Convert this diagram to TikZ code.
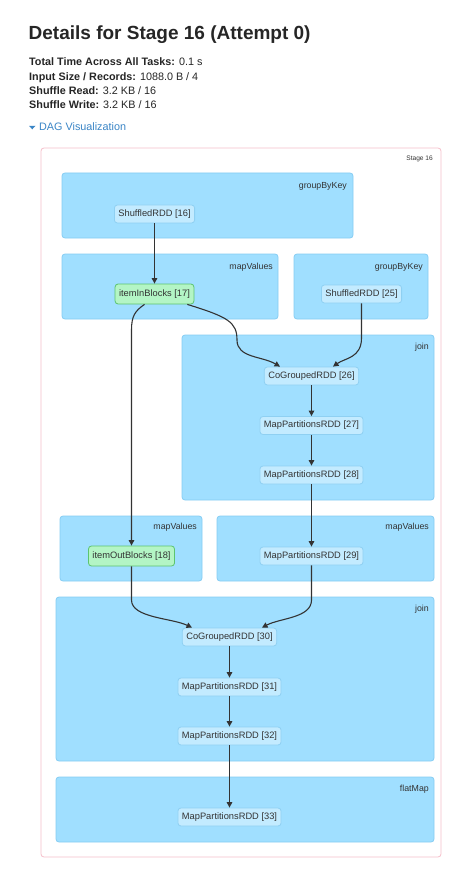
\documentclass[tikz,border=0pt]{standalone}
\usepackage{fontspec}
\setmainfont{Liberation Sans}
\usetikzlibrary{arrows.meta,positioning}

\definecolor{clusterfill}{HTML}{A0DFFF}
\definecolor{clusterline}{HTML}{86CDF3}
\definecolor{rddfill}{HTML}{C3EBFF}
\definecolor{rddline}{HTML}{8FD0F2}
\definecolor{cachedfill}{HTML}{B3F5C5}
\definecolor{cachedline}{HTML}{5CC46F}
\definecolor{stageline}{HTML}{F6BFCB}
\definecolor{linkblue}{HTML}{3A85C6}
\definecolor{edgecol}{HTML}{333333}
\definecolor{textcol}{HTML}{333333}

\begin{document}
\begin{tikzpicture}[x=1pt,y=-1pt,
  cluster/.style={fill=clusterfill,draw=clusterline,line width=0.8pt,rounded corners=3pt},
  clabel/.style={anchor=east,inner sep=0pt,font=\fontsize{8.8}{10}\selectfont,text=textcol},
  rdd/.style={draw=rddline,fill=rddfill,rounded corners=3pt,line width=0.8pt,
    font=\fontsize{9.3}{11}\selectfont,text=textcol,minimum height=18pt,inner xsep=4pt,inner ysep=0pt},
  cached/.style={rdd,draw=cachedline,fill=cachedfill,minimum height=20pt},
  dep/.style={-{Triangle[width=5.5pt,length=5.5pt]},draw=edgecol,line width=1.1pt},
  stat/.style={anchor=base west,inner sep=0pt,font=\fontsize{10.8}{13}\selectfont,text=black!85}]
  \useasboundingbox[fill=white] (0,0) rectangle (474,877);

  % header
  \node[anchor=base west,inner sep=0pt,font=\fontsize{19}{22}\bfseries,text=black!85] (title) at (28.5,39.5) {Details for Stage 16 (Attempt 0)};
  \node[stat] (total) at (29,65.7) {\textbf{Total Time Across All Tasks:} 0.1 s};
  \node[stat] (input) at (29,80.2) {\textbf{Input Size / Records:} 1088.0 B / 4};
  \node[stat] (sread) at (29,94.6) {\textbf{Shuffle Read:} 3.2 KB / 16};
  \node[stat] (swrite) at (29,109) {\textbf{Shuffle Write:} 3.2 KB / 16};
  \fill[linkblue] (29,125.8) -- (35.5,125.8) -- (32.25,129.3) -- cycle;
  \node[stat,text=linkblue] (dag) at (39,131) {DAG Visualization};

  % stage
  \draw[stageline,line width=0.8pt,rounded corners=3pt] (41,148) rectangle (441,857);
  \node[clabel,font=\fontsize{6.6}{8}\selectfont] (stage) at (433,159) {Stage 16};

  % clusters
  \path[cluster] (62,173) rectangle (353,238);
  \node[clabel] (gbk1) at (347,186) {groupByKey};
  \path[cluster] (62,254) rectangle (278,319);
  \node[clabel] (mv1) at (273,267) {mapValues};
  \path[cluster] (294,254) rectangle (428,319);
  \node[clabel] (gbk2) at (423,267) {groupByKey};
  \path[cluster] (182,335) rectangle (434,500);
  \node[clabel] (join1) at (429,347) {join};
  \path[cluster] (60,516) rectangle (202,581);
  \node[clabel] (mv2) at (197,527) {mapValues};
  \path[cluster] (217,516) rectangle (434,581);
  \node[clabel] (mv3) at (429,527) {mapValues};
  \path[cluster] (56,597) rectangle (434,761);
  \node[clabel] (join2) at (429,609) {join};
  \path[cluster] (56,777) rectangle (434,842);
  \node[clabel] (fmap) at (429,789) {flatMap};

  % rdds
  \node[rdd] (r16) at (154.5,214) {ShuffledRDD [16]};
  \node[cached] (r17) at (154.5,294) {itemInBlocks [17]};
  \node[rdd] (r25) at (361.5,294) {ShuffledRDD [25]};
  \node[rdd] (r26) at (311.5,376) {CoGroupedRDD [26]};
  \node[rdd] (r27) at (311.5,425.5) {MapPartitionsRDD [27]};
  \node[rdd] (r28) at (311.5,475) {MapPartitionsRDD [28]};
  \node[cached] (r18) at (131.5,556) {itemOutBlocks [18]};
  \node[rdd] (r29) at (311.5,556) {MapPartitionsRDD [29]};
  \node[rdd] (r30) at (229.5,637) {CoGroupedRDD [30]};
  \node[rdd] (r31) at (229.5,687) {MapPartitionsRDD [31]};
  \node[rdd] (r32) at (229.5,736) {MapPartitionsRDD [32]};
  \node[rdd] (r33) at (229.5,817) {MapPartitionsRDD [33]};

  % dependencies
  \draw[dep] (r16) -- (r17);
  \draw[dep] ([xshift=-7pt]r17.south east) .. controls (228,317) and (237,322) .. (237,340)
    .. controls (237,358) and (262,356) .. ([xshift=-31.5pt]r26.north);
  \draw[dep] (r25.south) -- (361.5,338) .. controls (361.5,358) and (345,358) .. ([xshift=21.5pt]r26.north);
  \draw[dep] ([xshift=-10pt]r17.south) .. controls (135,311) and (131.5,316) .. (131.5,330) -- (r18.north);
  \draw[dep] (r26) -- (r27);
  \draw[dep] (r27) -- (r28);
  \draw[dep] (r28) -- (r29);
  \draw[dep] (r18.south) -- (131.5,600) .. controls (131.5,618) and (172,618) .. ([xshift=-37.5pt]r30.north);
  \draw[dep] (r29.south) -- (311.5,600) .. controls (311.5,618) and (280,618) .. ([xshift=32.5pt]r30.north);
  \draw[dep] (r30) -- (r31);
  \draw[dep] (r31) -- (r32);
  \draw[dep] (r32) -- (r33);
\end{tikzpicture}
\end{document}
